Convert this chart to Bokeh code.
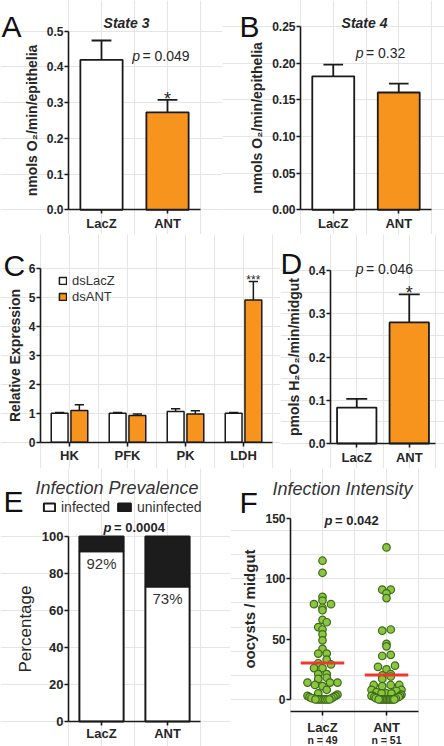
import numpy as np
from bokeh.plotting import figure
from bokeh.layouts import column, row
from bokeh.models import (Label, FixedTicker, PrintfTickFormatter, Legend, LegendItem,
                          LinearAxis, Range1d)
from bokeh.embed import file_html
from bokeh.resources import INLINE

FONT = "Liberation Sans"
ORANGE = "#F7941D"
TXT = "#262626"
DARK = "#1a1a1a"

# ---------------- data ----------------
groups = ["LacZ", "ANT"]
state3_mean = [0.420, 0.273]
state3_err = [0.054, 0.035]
state4_mean = [0.182, 0.160]
state4_err = [0.016, 0.012]
genes = ["HK", "PFK", "PK", "LDH"]
dslacz_mean = [1.00, 1.00, 1.06, 1.00]
dslacz_err = [0.03, 0.03, 0.10, 0.03]
dsant_mean = [1.10, 0.92, 0.98, 4.92]
dsant_err = [0.20, 0.06, 0.11, 0.64]
h2o2_mean = [0.083, 0.280]
h2o2_err = [0.020, 0.065]
infected_pct = [92, 73]
lacz_oocysts = [115, 105, 85, 82, 79, 79, 76, 74, 66, 64, 60, 58, 54, 49, 42, 38, 38, 33,
                30, 29, 26, 26, 21, 21, 18, 17, 14, 14, 14, 12, 11, 8, 5, 4, 3, 3, 2, 2,
                1, 1, 1, 0, 0, 0, 0, 0, 0, 0, 0]
ant_oocysts = [126, 91, 91, 88, 84, 58, 57, 46, 44, 37, 36, 28, 27, 25, 21, 20, 19, 17,
               12, 12, 12, 11, 8, 8, 7, 6, 5, 5, 5, 4, 3, 3, 3, 2, 2, 2, 1, 1, 1,
               0, 0, 0, 0, 0, 0, 0, 0, 0, 0, 0, 0]
n_counts = [49, 51]
state3_ticks = [0.0, 0.1, 0.2, 0.3, 0.4, 0.5]
state4_ticks = [0.0, 0.05, 0.10, 0.15, 0.20, 0.25]
expr_ticks = [0, 1, 2, 3, 4, 5, 6]
h2o2_ticks = [0.0, 0.1, 0.2, 0.3, 0.4]
pct_ticks = [0, 20, 40, 60, 80, 100]
oocyst_ticks = [0, 50, 100, 150]


def make_fig(px, py, w, h, fl, fr, ft, fb, xd, yd):
    """Canvas == frame; axes are drawn at fixed locations inside it."""
    xs = (xd[1] - xd[0]) / (fr - fl)
    ys = (yd[1] - yd[0]) / (fb - ft)
    xr = Range1d(xd[0] - fl * xs, xd[1] + (w - fr) * xs)
    yr = Range1d(yd[0] - (h - fb) * ys, yd[1] + ft * ys)
    p = figure(width=w, height=h, x_range=xr, y_range=yr, output_backend="svg",
               toolbar_location=None, title=None, x_axis_location=None,
               y_axis_location=None, min_border=0)
    p.outline_line_color = None
    p.background_fill_color = "white"
    p.border_fill_color = "white"
    g = dict(px=px, py=py, h=h)
    return p, g


def style_axis(ax):
    ax.axis_line_width = 1.6
    ax.axis_line_color = DARK
    ax.major_tick_line_width = 1.6
    ax.major_tick_line_color = DARK
    ax.major_tick_in = 0
    ax.major_tick_out = 4
    ax.minor_tick_in = 0
    ax.minor_tick_out = 0
    ax.major_label_text_font = FONT
    ax.major_label_text_font_style = "bold"
    ax.major_label_text_color = TXT
    ax.axis_label_text_font = FONT
    ax.axis_label_text_font_style = "bold"
    ax.axis_label_text_color = TXT
    ax.axis_label_text_font_size = "14px"


def add_axes(p, xfix, yfix, xb, yb, names, yticks, yfmt, ylabel, xstand=2):
    xax = LinearAxis(fixed_location=xfix, bounds=xb,
                     ticker=FixedTicker(ticks=list(range(len(names)))),
                     major_label_overrides={i: n for i, n in enumerate(names)})
    style_axis(xax)
    xax.major_label_text_font_size = "13px"
    xax.major_label_standoff = xstand
    p.add_layout(xax, "below")
    yax = LinearAxis(fixed_location=yfix, bounds=yb, ticker=FixedTicker(ticks=yticks),
                     axis_label=ylabel)
    if yfmt:
        yax.formatter = PrintfTickFormatter(format=yfmt)
    style_axis(yax)
    yax.major_label_text_font_size = "12px"
    yax.major_label_standoff = 1
    yax.axis_label_standoff = 4
    p.add_layout(yax, "left")
    return xax, yax


def lab(p, g, X, Y, text, size, style="normal", color=TXT, align="left",
        baseline="middle"):
    """Label at picture coordinates (X, Y) measured from the page's top-left."""
    p.add_layout(Label(x=X - g["px"], y=g["h"] - (Y - g["py"]), x_units="screen",
                       y_units="screen", text=text, text_font=FONT, text_font_size=size,
                       text_font_style=style, text_color=color, text_align=align,
                       text_baseline=baseline))


def dlab(p, x, y, text, size, yoff=0, style="normal", color=TXT, baseline="alphabetic"):
    p.add_layout(Label(x=x, y=y, text=text, text_font=FONT, text_font_size=size,
                       text_font_style=style, text_color=color, text_align="center",
                       text_baseline=baseline, y_offset=yoff))


def bars_with_err(p, xs, means, errs, width, fill, capw, lw=1.8):
    r = p.vbar(x=xs, top=means, bottom=0, width=width, fill_color=fill,
               line_color=DARK, line_width=lw)
    tops = [m + e for m, e in zip(means, errs)]
    p.segment(x0=xs, y0=means, x1=xs, y1=tops, line_color=DARK, line_width=lw)
    p.segment(x0=[x - capw for x in xs], y0=tops, x1=[x + capw for x in xs], y1=tops,
              line_color=DARK, line_width=lw)
    return r


def pval(p, g, Xr, Y, num, size, bold=False):
    lab(p, g, Xr, Y, "p", size, style="bold italic" if bold else "italic", align="right")
    lab(p, g, Xr + 2.5, Y, "= " + num, size, style="bold" if bold else "normal")


def legend_at(p, g, X, Ytop, renderer, text, gw, gh, size):
    # legend location is its bottom-left corner in screen units
    leg = Legend(items=[LegendItem(label=text, renderers=[renderer])],
                 location=(X - g["px"], g["h"] - (Ytop + gh - g["py"])),
                 glyph_width=gw, glyph_height=gh, label_height=gh, label_width=10,
                 padding=0, margin=0, spacing=0, border_line_color=None,
                 background_fill_alpha=0, label_text_font=FONT,
                 label_text_font_size=size, label_text_color="#333", label_standoff=5)
    p.add_layout(leg)


gx = list(range(len(groups)))
LET = "30px"

# ---------------- A ----------------
pA, gA = make_fig(0, 0, 222, 234, 68, 200, 30.7, 209.3, (-0.5, 1.5), (0, 0.5))
bars_with_err(pA, gx, state3_mean, state3_err, 0.64, ["white", ORANGE], 0.15)
add_axes(pA, 0, -0.5, (-0.5, 1.5), (0, 0.5), groups, state3_ticks, "%.1f",
         "nmols O\u2082/min/epithelia")
lab(pA, gA, 1, 26, "A", LET, baseline="alphabetic", color="#111")
lab(pA, gA, 126, 22, "State 3", "14px", style="bold italic", align="center")
pval(pA, gA, 139.5, 55, "0.049", "14px")
dlab(pA, 1, state3_mean[1] + state3_err[1], "*", "18px", yoff=1)

# ---------------- B ----------------
pB, gB = make_fig(222, 0, 222, 234, 78, 209, 26, 209.3, (-0.5, 1.5), (0, 0.25))
bars_with_err(pB, gx, state4_mean, state4_err, 0.64, ["white", ORANGE], 0.15)
add_axes(pB, 0, -0.5, (-0.5, 1.5), (0, 0.25), groups, state4_ticks, "%.2f",
         "nmols O\u2082/min/epithelia")
lab(pB, gB, 239, 26, "B", LET, baseline="alphabetic", color="#111")
lab(pB, gB, 364, 22, "State 4", "14px", style="bold italic", align="center")
pval(pB, gB, 363, 52, "0.32", "14px")

# ---------------- C ----------------
pC, gC = make_fig(0, 234, 280, 234, 40, 272, 34.3, 207.7, (-0.5, len(genes) - 0.5), (0, 6))
gxc = list(range(len(genes)))
rl = bars_with_err(pC, [x - 0.17 for x in gxc], dslacz_mean, dslacz_err, 0.29, "white",
                   0.08, lw=1.5)
ra = bars_with_err(pC, [x + 0.17 for x in gxc], dsant_mean, dsant_err, 0.29, ORANGE,
                   0.08, lw=1.5)
_, yC = add_axes(pC, 0, -0.5, (-0.5, len(genes) - 0.5), (0, 6), genes, expr_ticks, None,
                 "Relative Expression")
yC.axis_label_standoff = 3
legend_at(pC, gC, 58, 278.5, rl, "dsLacZ", 9, 9, "13px")
legend_at(pC, gC, 58, 294.5, ra, "dsANT", 9, 9, "13px")
lab(pC, gC, 3, 265, "C", LET, baseline="alphabetic", color="#111")
dlab(pC, 3 + 0.17, dsant_mean[3] + dsant_err[3], "***", "12px", yoff=2)

# ---------------- D ----------------
pD, gD = make_fig(280, 234, 164, 234, 50, 155, 36, 209, (-0.5, 1.5), (0, 0.4))
bars_with_err(pD, gx, h2o2_mean, h2o2_err, 0.75, ["white", ORANGE], 0.2)
add_axes(pD, 0, -0.5, (-0.5, 1.5), (0, 0.4), groups, h2o2_ticks, "%.1f",
         "pmols H\u2082O\u2082/min/midgut")
lab(pD, gD, 280, 263, "D", LET, baseline="alphabetic", color="#111")
pval(pD, gD, 363, 268, "0.046", "14px")
dlab(pD, 1, h2o2_mean[1] + h2o2_err[1], "*", "18px", yoff=1)

# ---------------- E ----------------
pE, gE = make_fig(0, 468, 230, 278, 68, 200, 68, 253, (-0.5, 1.5), (0, 100))
uninf = [100 - v for v in infected_pct]
r_inf = pE.vbar(x=gx, top=infected_pct, bottom=0, width=0.67, fill_color="white",
                line_color=DARK, line_width=2)
r_un = pE.vbar(x=gx, top=[a + b for a, b in zip(infected_pct, uninf)], bottom=infected_pct,
               width=0.67, fill_color="#1c1c1c", line_color=DARK, line_width=2)
_, yE = add_axes(pE, 0, -0.5, (-0.5, 1.5), (0, 100), groups, pct_ticks, None, "Percentage",
                 xstand=0)
yE.axis_label_text_font_size = "17px"
yE.axis_label_text_font_style = "normal"
yE.major_label_text_font_size = "13px"
for i, v in enumerate(infected_pct):
    dlab(pE, i, v, f"{v}%", "15px", yoff=-12, color="#333", baseline="middle")
legend_at(pE, gE, 42, 505, r_inf, "infected", 14, 10, "14px")
legend_at(pE, gE, 116, 505, r_un, "uninfected", 16, 10, "14px")
lab(pE, gE, 3, 501, "E", LET, baseline="alphabetic", color="#111")
lab(pE, gE, 35, 487, "Infection Prevalence", "18px", style="italic", color="#333")
pval(pE, gE, 111, 527, "0.0004", "13px", bold=True)

# ---------------- F ----------------
pF, gF = make_fig(230, 468, 214, 278, 60, 188, 50, 243, (-0.5, 1.5), (-10, 150))
ppy = 193.0 / 160.0
ppx = 128.0 / 2.0


def swarm(vals, bin_u=5.0, gap=8.5, maxw=30.0):
    vals = np.asarray(vals, dtype=float)
    offs = np.zeros(len(vals))
    bins = np.floor(vals / bin_u).astype(int)
    for b in np.unique(bins):
        idx = sorted(np.where(bins == b)[0], key=lambda i: vals[i])
        n = len(idx)
        s = gap if n <= 1 else min(gap, maxw / (n - 1))
        pos = sorted([(j - (n - 1) / 2.0) * s for j in range(n)], key=lambda q: (abs(q), q))
        for k, i in enumerate(idx):
            offs[i] = pos[k] / ppx
    return offs


for gi, vals in enumerate([lacz_oocysts, ant_oocysts]):
    offs = swarm(vals)
    pF.scatter(x=[gi + o for o in offs], y=vals, size=7.5, fill_color="#8CC63F",
               line_color="#3D6B1C", line_width=1.2)
    m = float(np.mean(vals))
    pF.segment(x0=[gi - 0.34], y0=[m], x1=[gi + 0.34], y1=[m], line_color="#EE3A2C",
               line_width=3)
_, yF = add_axes(pF, -10, -0.5, (-0.5, 1.5), (0, 150), groups, oocyst_ticks, None,
                 "oocysts / midgut", xstand=4)
yF.axis_label_text_font_size = "15px"
for i, n in enumerate(n_counts):
    dlab(pF, i, -10, f"n = {n}", "10.5px", yoff=-28, style="bold", baseline="middle")
lab(pF, gF, 239, 502, "F", LET, baseline="alphabetic", color="#111")
lab(pF, gF, 272, 488, "Infection Intensity", "18px", style="italic", color="#333")
pval(pF, gF, 332, 520, "0.042", "13px", bold=True)

layout = column(row(pA, pB), row(pC, pD), row(pE, pF))
open("out.html", "w").write(file_html(layout, INLINE))
